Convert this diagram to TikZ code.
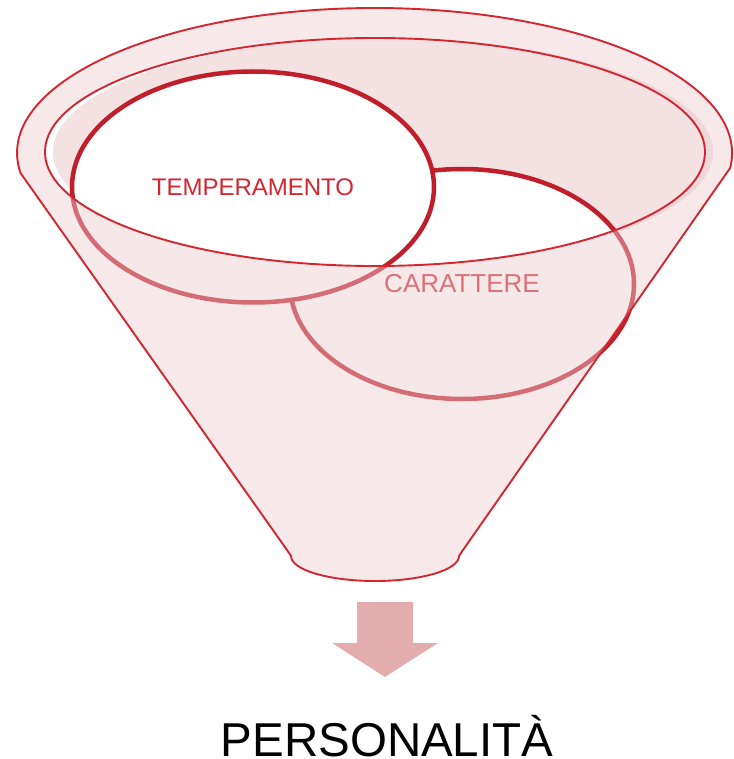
\documentclass[tikz,border=0pt]{standalone}
\usepackage{fontspec}
\setmainfont{Liberation Sans}
\usepackage{xcolor}
\usetikzlibrary{shapes.geometric}

\definecolor{funnelred}{RGB}{210,38,48}
\definecolor{ringred}{RGB}{191,30,42}
\definecolor{frontpink}{RGB}{237,205,208}
\definecolor{backpink}{RGB}{244,225,226}
\definecolor{arrowpink}{RGB}{227,173,174}

% outline of the funnel (rim, sides, spout)
\newcommand{\funnelshape}{(20.5,173) arc[start angle=172.07,end angle=365.94,x radius=357.5,y radius=145]
  -- (463,550) -- (459,556) arc[start angle=0,end angle=180,x radius=84,y radius=25]
  -- (287,550) -- cycle}
\newcommand{\mouthshape}{(375,152) ellipse[x radius=330,y radius=114]}

\begin{document}
\begin{tikzpicture}[x=1pt,y=-1pt,line join=round]
  \tikzstyle{rim}=[draw=funnelred,line width=1.9pt]
  \tikzstyle{ring}=[ellipse,draw=ringred,line width=4.5pt,fill=white,text=funnelred,inner sep=2pt]

  \useasboundingbox (0,0) rectangle (733,759);

  % Back wall
  \fill[white] \mouthshape;
  \fill[backpink] (383,152) ellipse[x radius=330,y radius=114];

  % Nodes
  \node[ring,minimum width=344pt,minimum height=230pt,font=\fontsize{26}{30}\selectfont] (car) at (462,284) {CARATTERE};
  \node[ring,minimum width=362pt,minimum height=231pt,font=\fontsize{24}{28}\selectfont] (temp) at (253,187) {TEMPERAMENTO};

  % Front of the funnel
  \path[fill=frontpink,fill opacity=.45,even odd rule] \funnelshape \mouthshape;
  \draw[rim] \funnelshape;
  \draw[rim] \mouthshape;

  % Arrow and result
  \fill[arrowpink] (357,602) -- (413,602) -- (413,643) -- (438,643) -- (385,677) -- (332,643) -- (357,643) -- cycle;
  \node[anchor=base,inner sep=0pt,font=\fontsize{47.5}{56}\selectfont] (pers) at (387,756) {PERSONALITÀ};
\end{tikzpicture}
\end{document}
